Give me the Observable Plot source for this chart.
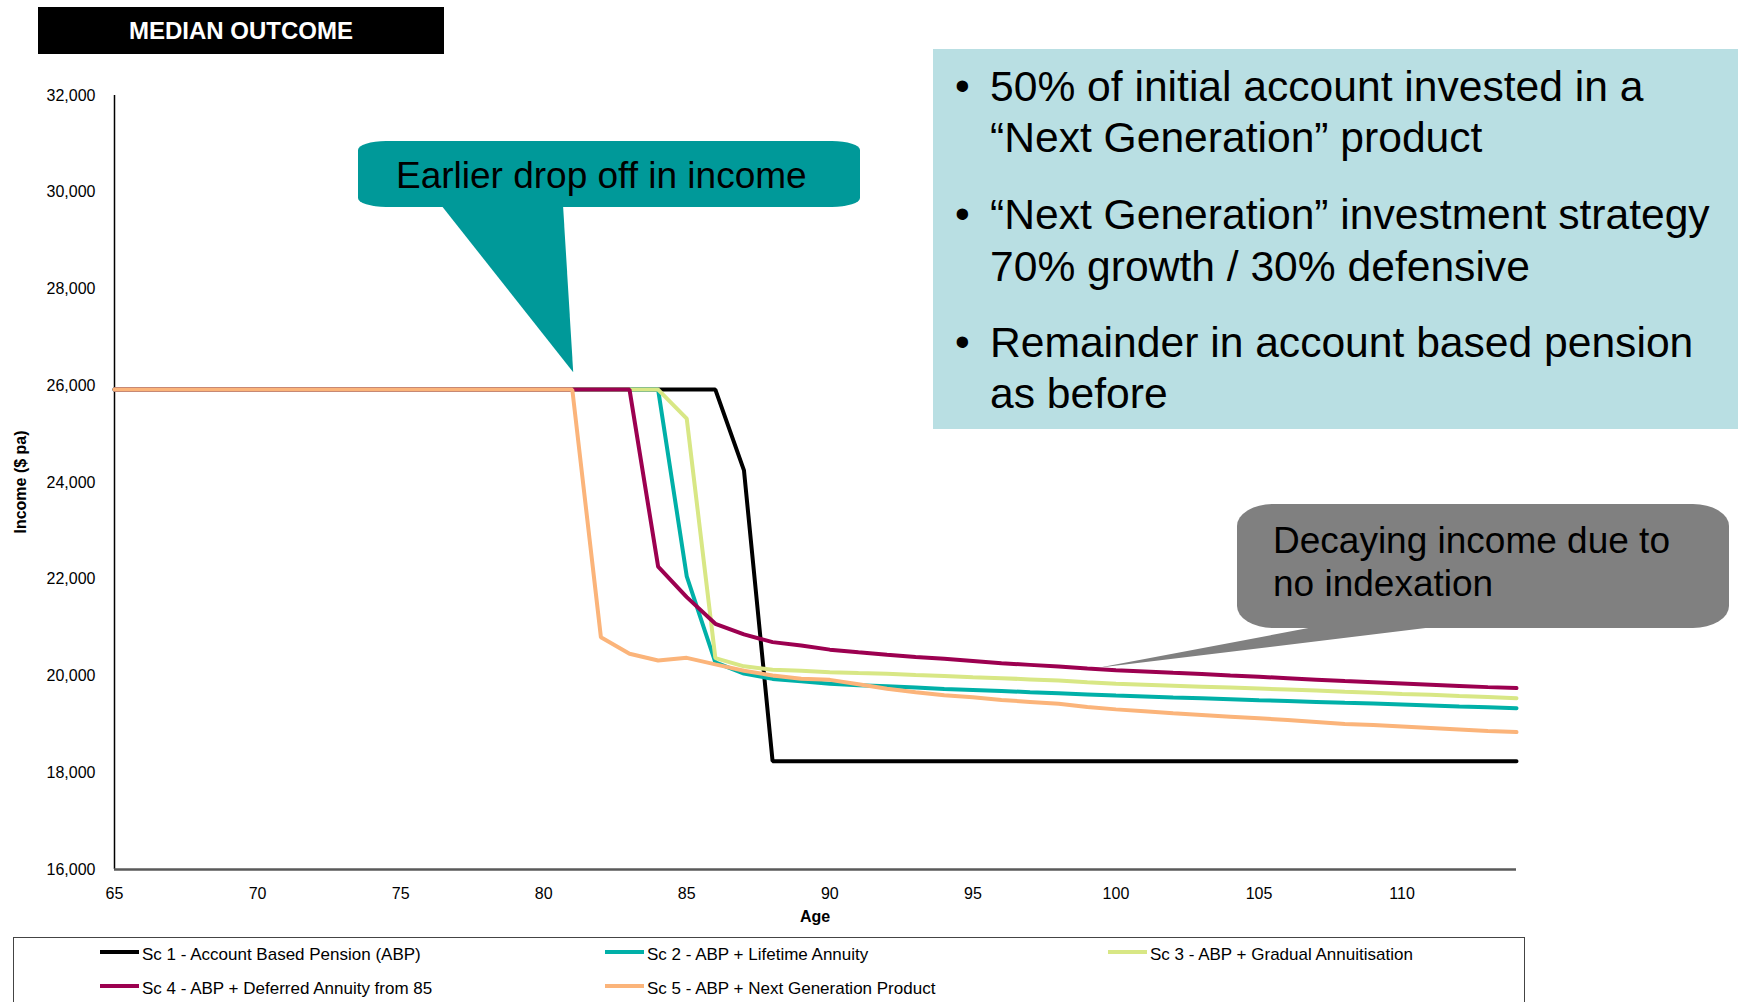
<!DOCTYPE html>
<html>
<head>
<meta charset="utf-8">
<script src="https://cdn.jsdelivr.net/npm/d3@7"></script>
<script src="https://cdn.jsdelivr.net/npm/@observablehq/plot@0.6"></script>
<style>
  html, body { margin: 0; padding: 0; background: #fff; }
  body { font-family: "Liberation Sans", Arial, sans-serif; }
  #wrap { position: relative; width: 1738px; height: 1002px; overflow: hidden; background: #fff; }
  #wrap svg.plot { position: absolute; left: 0; top: 0; }
  .abs { position: absolute; white-space: nowrap; }
</style>
</head>
<body>
<div id="wrap"></div>
<script>
// ---------------- data ----------------
const ages = [65,66,67,68,69,70,71,72,73,74,75,76,77,78,79,80,81,82,83,84,85,86,87,88,89,90,
  91,92,93,94,95,96,97,98,99,100,101,102,103,104,105,106,107,108,109,110,111,112,113,114];

const sc1 = [25920,25920,25920,25920,25920,25920,25920,25920,25920,25920,25920,25920,25920,25920,25920,25920,
  25920,25920,25920,25920,25920,25920,24250,18240,18240,18240,18240,18240,18240,18240,18240,18240,18240,18240,
  18240,18240,18240,18240,18240,18240,18240,18240,18240,18240,18240,18240,18240,18240,18240,18240];

const sc2 = [25920,25920,25920,25920,25920,25920,25920,25920,25920,25920,25920,25920,25920,25920,25920,25920,
  25920,25920,25920,25920,22060,20280,20050,19940,19890,19840,19810,19790,19760,19730,19710,19690,19665,19645,
  19620,19595,19575,19555,19540,19520,19500,19485,19465,19445,19430,19410,19390,19370,19355,19335];

const sc3 = [25920,25920,25920,25920,25920,25920,25920,25920,25920,25920,25920,25920,25920,25920,25920,25920,
  25920,25920,25920,25920,25320,20370,20200,20130,20110,20080,20060,20045,20020,20000,19975,19955,19930,19905,
  19870,19840,19820,19800,19780,19760,19740,19720,19700,19675,19655,19630,19610,19585,19565,19540];

const sc4 = [25920,25920,25920,25920,25920,25920,25920,25920,25920,25920,25920,25920,25920,25920,25920,25920,
  25920,25920,25920,22260,21630,21080,20860,20700,20630,20545,20490,20440,20395,20355,20310,20265,20230,20195,
  20155,20120,20095,20065,20040,20010,19985,19955,19925,19895,19870,19845,19820,19795,19770,19750];

const sc5 = [25920,25920,25920,25920,25920,25920,25920,25920,25920,25920,25920,25920,25920,25920,25920,25920,
  25920,20800,20460,20320,20375,20240,20110,20010,19945,19920,19830,19735,19665,19600,19560,19505,19465,19425,
  19360,19310,19270,19230,19195,19160,19125,19090,19050,19010,18985,18955,18925,18895,18865,18840];

const seriesNames = [
  "Sc 1 - Account Based Pension (ABP)",
  "Sc 2 - ABP + Lifetime Annuity",
  "Sc 3 - ABP + Gradual Annuitisation",
  "Sc 4 - ABP + Deferred Annuity from 85",
  "Sc 5 - ABP + Next Generation Product"
];
const seriesValues = [sc1, sc2, sc3, sc4, sc5];
const seriesColors = ["#000000", "#00B0A8", "#D8E785", "#9C0050", "#FBB47A"];

const xTicks = [65,70,75,80,85,90,95,100,105,110];
const yTicks = [16000,18000,20000,22000,24000,26000,28000,30000,32000];

const titleText = "MEDIAN OUTCOME";
const xLabel = "Age";
const yLabel = "Income ($ pa)";
const bullets = [
  ["50% of initial account invested in a", "\u201CNext Generation\u201D product"],
  ["\u201CNext Generation\u201D investment strategy", "70% growth / 30% defensive"],
  ["Remainder in account based pension", "as before"]
];
const callout1 = { text: ["Earlier drop off in income"], age: 81.05, value: 26270 };
const callout2 = { text: ["Decaying income due to", "no indexation"], age: 99.4, value: 20160 };

// ------------- table -------------
const rows = [];
seriesNames.forEach((name, si) => {
  ages.forEach((a, i) => rows.push({ series: name, idx: si, age: a, income: seriesValues[si][i] }));
});

const FONT = "'Liberation Sans', Arial, sans-serif";

const chart = Plot.plot({
  width: 1738,
  height: 935,
  marginLeft: 114,
  marginRight: 222,
  marginTop: 95,
  marginBottom: 66,
  style: { fontFamily: FONT, fontSize: "16px", color: "#000", background: "transparent", overflow: "visible" },
  x: { domain: [65, 114], ticks: xTicks, tickSize: 0, tickPadding: 18, label: null, tickFormat: d => String(d) },
  y: { domain: [16000, 32000], ticks: yTicks, tickSize: 0, tickPadding: 19, label: null, tickFormat: d3.format(",") },
  marks: [
    Plot.ruleX([65], { stroke: "#000", strokeWidth: 1.5 }),
    Plot.ruleY([16000], { stroke: "#5a5a5a", strokeWidth: 2.5 }),
    ...seriesNames.map((name, si) =>
      Plot.line(rows.filter(r => r.idx === si), {
        x: "age", y: "income", stroke: seriesColors[si], strokeWidth: 4, strokeLinejoin: "miter"
      })
    )
  ]
});
chart.classList.add("plot");

const wrap = document.getElementById("wrap");
wrap.appendChild(chart);

const sx = chart.scale("x"), sy = chart.scale("y");
const X = v => sx.apply(v), Y = v => sy.apply(v);
const svg = d3.select(chart);

// axis titles
svg.append("text").attr("x", (X(65) + X(114)) / 2).attr("y", 916).attr("dy", "0.35em")
  .attr("text-anchor", "middle").attr("font-weight", "bold").attr("font-size", 16).attr("fill", "#000")
  .attr("font-family", FONT).text(xLabel);
svg.append("text").attr("transform", `translate(20,${(Y(16000) + Y(32000)) / 2 + 0}) rotate(-90)`)
  .attr("dy", "0.35em").attr("text-anchor", "middle").attr("font-weight", "bold").attr("font-size", 16)
  .attr("fill", "#000").attr("font-family", FONT).text(yLabel);

// callout 1 (teal)
const g1 = svg.append("g").attr("text-anchor", "start");
g1.append("path").attr("fill", "#009999")
  .attr("d", `M441,205 L563,205 L${X(callout1.age)},${Y(callout1.value)} Z`);
g1.append("rect").attr("x", 358).attr("y", 141).attr("width", 502).attr("height", 66)
  .attr("rx", 28).attr("ry", 9).attr("fill", "#009999");
g1.append("text").attr("x", 396).attr("y", 175).attr("dy", "0.35em").attr("font-size", 37)
  .attr("text-anchor", "start").attr("font-family", FONT).attr("fill", "#000").text(callout1.text[0]);

// callout 2 (gray)
const g2 = svg.append("g").attr("text-anchor", "start");
g2.append("path").attr("fill", "#808080")
  .attr("d", `M1319,626 L1442,626 L${X(callout2.age)},${Y(callout2.value)} Z`);
g2.append("rect").attr("x", 1237).attr("y", 504).attr("width", 492).attr("height", 124)
  .attr("rx", 36).attr("ry", 22).attr("fill", "#808080");
callout2.text.forEach((t, i) => {
  g2.append("text").attr("x", 1273).attr("y", 540 + i * 43).attr("dy", "0.35em").attr("font-size", 37)
    .attr("text-anchor", "start").attr("font-family", FONT).attr("fill", "#000").text(t);
});

// ------------- HTML overlays -------------
function addDiv(style, text) {
  const d = document.createElement("div");
  d.className = "abs";
  Object.assign(d.style, style);
  if (text != null) d.textContent = text;
  wrap.appendChild(d);
  return d;
}

// title box
addDiv({ left: "38px", top: "7px", width: "406px", height: "47px", background: "#000", color: "#fff",
  fontWeight: "bold", fontSize: "24px", lineHeight: "47px", textAlign: "center", fontFamily: FONT }, titleText);

// info box
addDiv({ left: "933px", top: "49px", width: "805px", height: "380px", background: "#B9DFE3" });
const lineCenters = [[86, 137], [214, 266], [342, 393]];
bullets.forEach((lines, bi) => {
  addDiv({ left: "955px", top: (lineCenters[bi][0] - 25) + "px", fontSize: "42px", lineHeight: "50px",
    fontFamily: FONT, color: "#000" }, "\u2022");
  lines.forEach((t, li) => {
    addDiv({ left: "990px", top: (lineCenters[bi][li] - 25) + "px", fontSize: "42.6px", lineHeight: "50px",
      fontFamily: FONT, color: "#000" }, t);
  });
});

// legend
addDiv({ left: "13px", top: "937px", width: "1512px", height: "100px", border: "1.5px solid #444",
  boxSizing: "border-box" });
const legendPos = [[100, 955], [605, 955], [1108, 955], [100, 989], [605, 989]];
seriesNames.forEach((name, i) => {
  const [lx, ly] = legendPos[i];
  addDiv({ left: lx + "px", top: (ly - 5) + "px", width: "39px", height: "4px", background: seriesColors[i] });
  addDiv({ left: (lx + 42) + "px", top: (ly - 10) + "px", fontSize: "17px", lineHeight: "20px",
    fontFamily: FONT, color: "#000" }, name);
});
</script>
</body>
</html>
